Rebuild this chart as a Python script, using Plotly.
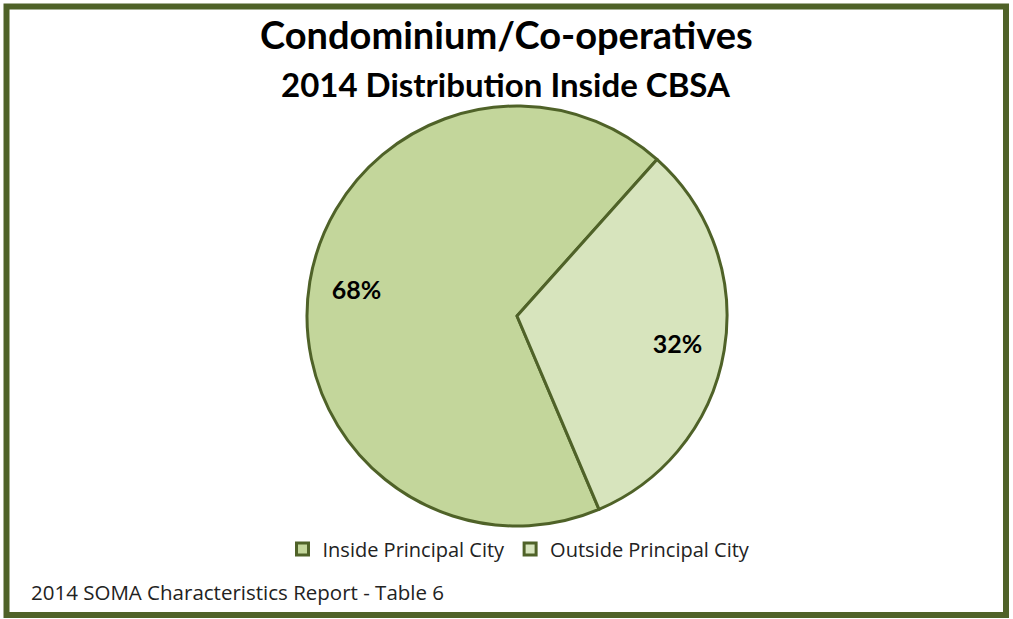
import plotly.graph_objects as go

labels = ["Inside Principal City", "Outside Principal City"]
values = [68, 32]
colors = ["#c3d69b", "#d7e4bd"]
title_line1 = "Condominium/Co-operatives"
title_line2 = "2014 Distribution Inside CBSA"
footer = "2014 SOMA Characteristics Report - Table 6"

W, H = 1013, 619
TFONT = "Lato, 'Open Sans', sans-serif"
BFONT = "'Open Sans', Lato, sans-serif"
LINE = "#4f6228"

def px(x):
    return x / W

def py(y):
    return 1 - y / H

dom = dict(x=[px(307), px(727)], y=[py(526), py(106)])

fig = go.Figure()
fig.add_trace(go.Pie(
    labels=labels,
    values=values,
    sort=False,
    direction="clockwise",
    rotation=157,
    marker=dict(colors=colors, line=dict(color=LINE, width=3)),
    textinfo="none",
    domain=dom,
    hoverinfo="label+percent",
))
# transparent ring used only to place the percentage labels toward the rim
fig.add_trace(go.Pie(
    labels=labels,
    values=values,
    sort=False,
    direction="clockwise",
    rotation=157,
    hole=0.55,
    marker=dict(colors=["rgba(0,0,0,0)"] * 2, line=dict(width=0)),
    texttemplate="<b>%{percent:.0%}</b>",
    textposition="inside",
    insidetextorientation="horizontal",
    textfont=dict(family=TFONT, size=25, color="black"),
    domain=dom,
    hoverinfo="skip",
    showlegend=False,
))

fig.update_layout(
    width=W, height=H,
    margin=dict(l=0, r=0, t=0, b=0),
    paper_bgcolor="white",
    plot_bgcolor="white",
    showlegend=True,
    legend=dict(
        orientation="h",
        x=px(519), xanchor="center",
        y=py(549), yanchor="middle",
        font=dict(family=BFONT, size=20, color="#222222"),
        itemwidth=30,
    ),
    annotations=[
        dict(text="<b>" + title_line1 + "</b>", x=px(506), y=py(34), xref="paper", yref="paper",
             showarrow=False, font=dict(family=TFONT, size=38, color="black"), xanchor="center", yanchor="middle"),
        dict(text="<b>" + title_line2 + "</b>", x=px(506), y=py(84), xref="paper", yref="paper",
             showarrow=False, font=dict(family=TFONT, size=33, color="black"), xanchor="center", yanchor="middle"),
        dict(text=footer, x=px(29), y=py(592), xref="paper", yref="paper",
             showarrow=False, font=dict(family=BFONT, size=20.5, color="#222222"), xanchor="left", yanchor="middle"),
    ],
    shapes=[
        dict(type="rect", xref="paper", yref="paper",
             x0=px(6.5), x1=px(1006), y0=py(615), y1=py(6.5),
             line=dict(color=LINE, width=6), fillcolor="rgba(0,0,0,0)"),
    ],
)

fig.write_html(
    "out.html",
    config={"displayModeBar": False},
    post_script="document.body.style.margin='0';document.body.style.overflow='hidden';",
)
